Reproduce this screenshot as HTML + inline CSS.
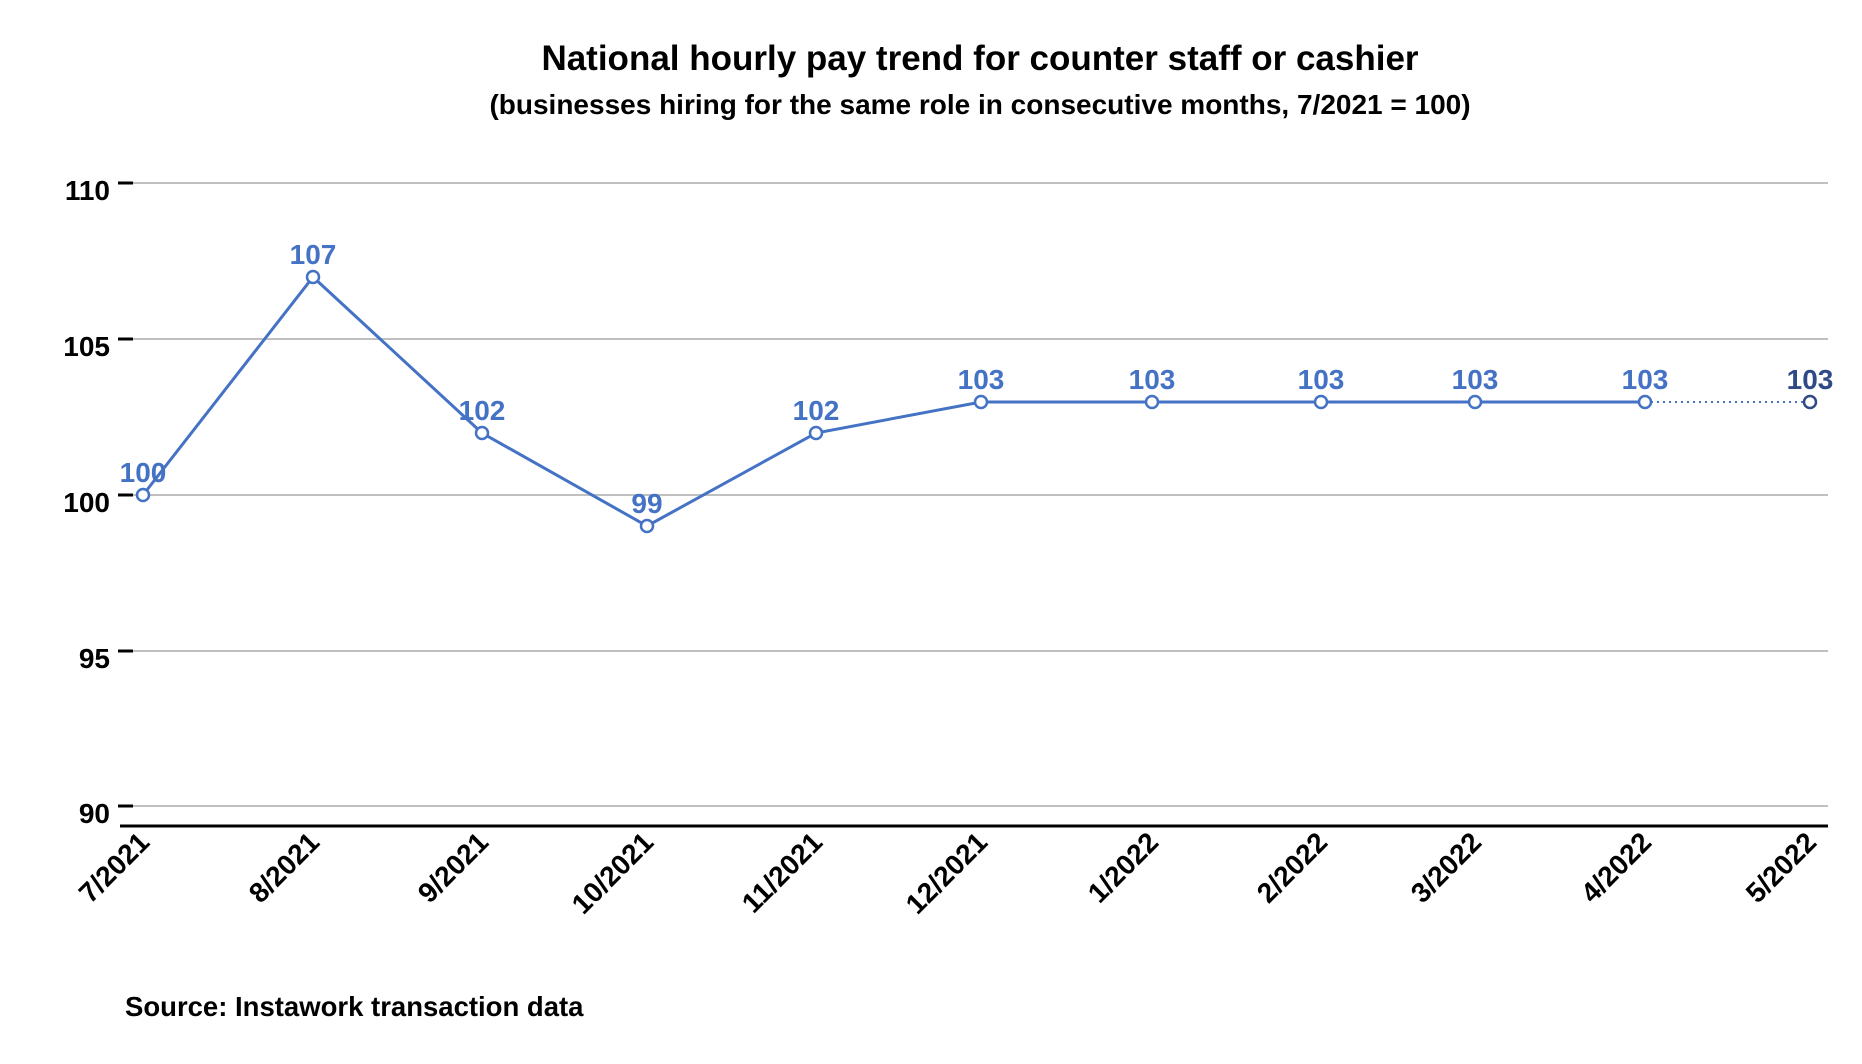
<!DOCTYPE html>
<html><head><meta charset="utf-8"><style>body{margin:0;background:#fff}svg{display:block}</style></head>
<body>
<svg width="1862" height="1064" xmlns="http://www.w3.org/2000/svg" font-family="Liberation Sans, sans-serif" font-weight="bold">
<text x="980" y="70" text-anchor="middle" font-size="35">National hourly pay trend for counter staff or cashier</text>
<text x="980" y="114" text-anchor="middle" font-size="28">(businesses hiring for the same role in consecutive months, 7/2021 = 100)</text>
<g stroke="#c0c0c0" stroke-width="2">
<line x1="133" x2="1828" y1="183" y2="183"/><line x1="133" x2="1828" y1="339" y2="339"/>
<line x1="133" x2="1828" y1="495" y2="495"/><line x1="133" x2="1828" y1="651" y2="651"/>
<line x1="133" x2="1828" y1="806" y2="806"/></g>
<g stroke="#000" stroke-width="3">
<line x1="118" x2="133" y1="183" y2="183"/><line x1="118" x2="133" y1="339" y2="339"/>
<line x1="118" x2="133" y1="495" y2="495"/><line x1="118" x2="133" y1="651" y2="651"/>
<line x1="118" x2="133" y1="806" y2="806"/>
<line x1="120" x2="1828" y1="826" y2="826"/></g>
<g font-size="28" text-anchor="end">
<text x="110" y="200">110</text><text x="110" y="356">105</text><text x="110" y="512">100</text><text x="110" y="668">95</text><text x="110" y="823">90</text></g>
<polyline fill="none" stroke="#4472C4" stroke-width="3" points="143,495 313,277 482,433 647,526 816,433 981,402 1152,402 1321,402 1475,402 1645,402"/>
<line x1="1645" y1="402" x2="1810" y2="402" stroke="#4472C4" stroke-width="2" stroke-dasharray="2,4"/>
<g fill="#fff" stroke="#4472C4" stroke-width="2.5">
<circle cx="143" cy="495" r="6"/><circle cx="313" cy="277" r="6"/><circle cx="482" cy="433" r="6"/><circle cx="647" cy="526" r="6"/><circle cx="816" cy="433" r="6"/><circle cx="981" cy="402" r="6"/><circle cx="1152" cy="402" r="6"/><circle cx="1321" cy="402" r="6"/><circle cx="1475" cy="402" r="6"/><circle cx="1645" cy="402" r="6"/></g>
<circle cx="1810" cy="402" r="6" fill="#fff" stroke="#2F4A86" stroke-width="2.5"/>
<g font-size="28" fill="#4472C4" text-anchor="middle">
<text x="143" y="482">100</text><text x="313" y="264">107</text><text x="482" y="420">102</text><text x="647" y="513">99</text><text x="816" y="420">102</text><text x="981" y="389">103</text><text x="1152" y="389">103</text><text x="1321" y="389">103</text><text x="1475" y="389">103</text><text x="1645" y="389">103</text><text x="1810" y="389" fill="#2F4A86">103</text></g>
<g font-size="28" text-anchor="end">
<text transform="translate(151,844) rotate(-45)">7/2021</text>
<text transform="translate(321,844) rotate(-45)">8/2021</text>
<text transform="translate(490,844) rotate(-45)">9/2021</text>
<text transform="translate(655,844) rotate(-45)">10/2021</text>
<text transform="translate(824,844) rotate(-45)">11/2021</text>
<text transform="translate(989,844) rotate(-45)">12/2021</text>
<text transform="translate(1160,844) rotate(-45)">1/2022</text>
<text transform="translate(1329,844) rotate(-45)">2/2022</text>
<text transform="translate(1483,844) rotate(-45)">3/2022</text>
<text transform="translate(1653,844) rotate(-45)">4/2022</text>
<text transform="translate(1818,844) rotate(-45)">5/2022</text></g>
<text x="125" y="1016" font-size="27.5">Source: Instawork transaction data</text>
</svg>
</body></html>
